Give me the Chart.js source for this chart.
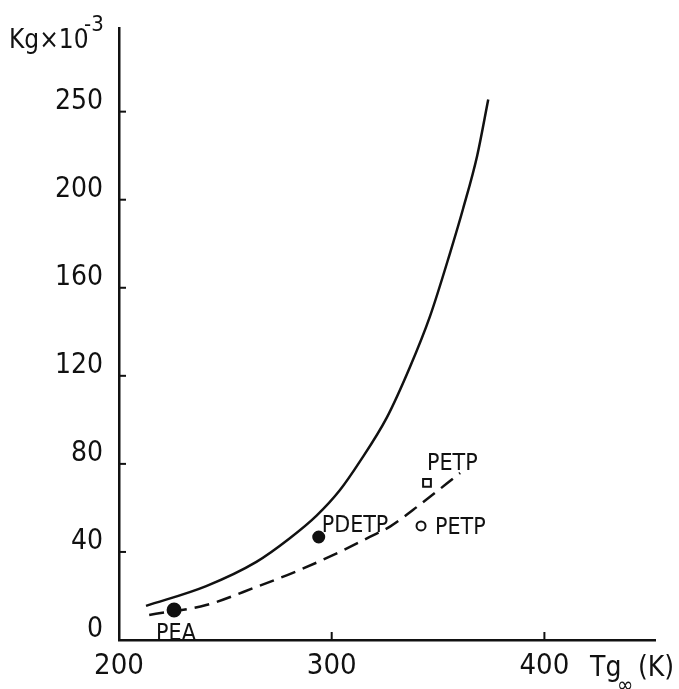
<!DOCTYPE html>
<html>
<head>
<meta charset="utf-8">
<script src="https://cdn.jsdelivr.net/npm/chart.js@4.4.1/dist/chart.umd.min.js"></script>
<style>
  html, body { margin: 0; padding: 0; background: #fff; }
</style>
</head>
<body>
<canvas id="chart" width="679" height="689"></canvas>
<script>
const FONT = '"Liberation Sans Narrow", "DejaVu Sans Condensed", sans-serif';
const INK = '#111';

// solid curve (upper)
const solidX = [212.7, 241.0, 264.6, 280.0, 292.9, 303.8, 313.2, 325.9, 336.8, 346.2, 355.7, 361.8, 368.4, 373.6];
const solidY = [15.5, 24.5, 35.5, 46.0, 56.5, 68.0, 81.0, 101.0, 124.0, 147.0, 176.0, 196.0, 220.0, 245.5];

// dashed curve (lower)
const dashX = [214.2, 241.0, 264.6, 284.9, 303.8, 317.9, 327.4, 341.5, 360.4];
const dashY = [11.4, 15.9, 24.1, 31.8, 40.0, 46.8, 51.5, 61.5, 75.9];

// measured polymers
const pointNames = ['PEA', 'PDETP', 'PETP', 'PETP'];
const pointX = [225.9, 293.9, 344.8, 342.0];
const pointY = [13.6, 46.8, 71.4, 51.8];

// axis ticks
const xTickValues = [200, 300, 400];
const xTickLabels = ['200', '300', '400'];
const yTickValues = [0, 40, 80, 120, 160, 200, 240];
const yTickLabels = ['0', '40', '80', '120', '160', '200', '250'];

const toXY = (xs, ys) => xs.map((x, i) => ({ x: x, y: ys[i] }));

// inner tick marks, axis titles and point labels
const decorations = {
  id: 'decorations',
  afterDraw(chart) {
    const ctx = chart.ctx;
    const xs = chart.scales.x;
    const ys = chart.scales.y;
    const x0 = xs.getPixelForValue(xs.min);
    const y0 = ys.getPixelForValue(ys.min);

    ctx.save();
    ctx.strokeStyle = INK;
    ctx.lineWidth = 2;
    xTickValues.slice(1).forEach(v => {
      const px = xs.getPixelForValue(v);
      ctx.beginPath();
      ctx.moveTo(px, y0);
      ctx.lineTo(px, y0 - 8);
      ctx.stroke();
    });
    yTickValues.slice(1).forEach(v => {
      const py = ys.getPixelForValue(v);
      ctx.beginPath();
      ctx.moveTo(x0, py);
      ctx.lineTo(x0 + 7, py);
      ctx.stroke();
    });

    ctx.fillStyle = INK;
    ctx.textAlign = 'left';
    ctx.textBaseline = 'alphabetic';

    // y title
    ctx.font = '26px ' + FONT;
    ctx.fillText('Kg\u00d710', 9, 48);
    ctx.font = '22px ' + FONT;
    ctx.fillText('-3', 84, 31);

    // x title
    ctx.font = '28px ' + FONT;
    ctx.fillText('Tg', 590, 676);
    ctx.fillText('(K)', 638, 676);
    ctx.font = '22px ' + FONT;
    ctx.fillText('\u221e', 617, 692);

    // point labels
    const offsets = [[-18, 30], [3, -5], [0, -13], [14, 8]];
    ctx.font = '23px ' + FONT;
    pointNames.forEach((name, i) => {
      const px = xs.getPixelForValue(pointX[i]);
      const py = ys.getPixelForValue(pointY[i]);
      ctx.fillText(name, px + offsets[i][0], py + offsets[i][1]);
    });
    ctx.restore();
  }
};

new Chart(document.getElementById('chart'), {
  type: 'scatter',
  data: {
    datasets: [
      {
        data: toXY(solidX, solidY),
        showLine: true,
        borderColor: INK,
        borderWidth: 2.5,
        pointRadius: 0,
        cubicInterpolationMode: 'monotone'
      },
      {
        data: toXY(dashX, dashY),
        showLine: true,
        borderColor: INK,
        borderWidth: 2.5,
        borderDash: [15, 8],
        pointRadius: 0,
        cubicInterpolationMode: 'monotone'
      },
      {
        data: toXY(pointX, pointY),
        showLine: false,
        pointStyle: ['circle', 'circle', 'rect', 'circle'],
        pointRadius: [6.5, 5.5, 5.5, 4.5],
        backgroundColor: [INK, INK, '#fff', '#fff'],
        borderColor: INK,
        borderWidth: 2
      }
    ]
  },
  options: {
    responsive: false,
    animation: false,
    layout: { padding: { left: 0, top: 28, right: 24, bottom: 0 } },
    plugins: {
      legend: { display: false },
      tooltip: { enabled: false }
    },
    scales: {
      x: {
        type: 'linear',
        min: 200,
        max: 452,
        afterFit: scale => {
          scale.height = 49;
          scale.paddingLeft = 0;
          scale.paddingRight = 0;
        },
        afterBuildTicks: scale => { scale.ticks = xTickValues.map(v => ({ value: v })); },
        grid: { display: false, drawTicks: false },
        border: { display: true, color: INK, width: 2.5 },
        ticks: {
          autoSkip: false,
          maxRotation: 0,
          padding: 9,
          color: INK,
          font: { family: FONT, size: 29 },
          callback: (v) => xTickLabels[xTickValues.indexOf(v)]
        }
      },
      y: {
        type: 'linear',
        min: 0,
        max: 278,
        afterFit: scale => {
          scale.width = 119;
          scale.paddingTop = 0;
          scale.paddingBottom = 0;
        },
        afterBuildTicks: scale => { scale.ticks = yTickValues.map(v => ({ value: v })); },
        grid: { display: false, drawTicks: false },
        border: { display: true, color: INK, width: 2.5 },
        ticks: {
          autoSkip: false,
          padding: 16,
          labelOffset: -10,
          color: INK,
          font: { family: FONT, size: 28 },
          callback: (v) => yTickLabels[yTickValues.indexOf(v)]
        }
      }
    }
  },
  plugins: [decorations]
});
</script>
</body>
</html>
